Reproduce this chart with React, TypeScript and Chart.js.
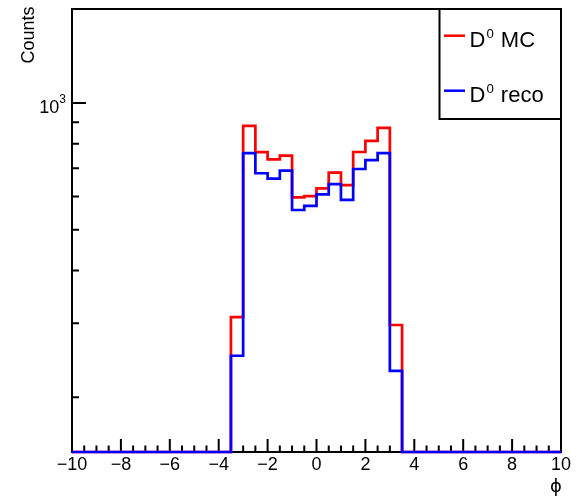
import React, { useEffect, useRef } from "react";
import { Chart, registerables } from "chart.js";

Chart.register(...registerables);

// ---- data ----
const xLow = -10;
const xHigh = 10;
const binWidth = 0.5; // 40 bins of phi
const mcCounts = [
  0, 0, 0, 0, 0, 0, 0, 0, 0, 0, 0, 0, 0,
  310, 882, 764, 735, 750, 597, 601, 627, 683, 638, 765, 813, 873, 297,
  0, 0, 0, 0, 0, 0, 0, 0, 0, 0, 0, 0, 0,
];
const recoCounts = [
  0, 0, 0, 0, 0, 0, 0, 0, 0, 0, 0, 0, 0,
  251, 760, 681, 661, 691, 557, 570, 607, 642, 589, 697, 732, 760, 231,
  0, 0, 0, 0, 0, 0, 0, 0, 0, 0, 0, 0, 0,
];
const seriesLabels = ["D⁰ MC", "D⁰ reco"];
const xTickLabelStep = 2;
const yMin = 148.3;
const yMax = 1672;
const yMinorTicks = [200, 300, 400, 500, 600, 700, 800, 900];
const yMajorTicks = [1000];
const yTitle = "Counts";
const xTitle = "ϕ";

const FONT = "'Liberation Sans', Arial, Helvetica, sans-serif";

function toSteps(counts: number[]) {
  const pts: { x: number; y: number }[] = [];
  for (let i = 0; i <= counts.length; i++) {
    const c = counts[Math.min(i, counts.length - 1)];
    pts.push({ x: xLow + i * binWidth, y: c > yMin ? c : yMin });
  }
  return pts;
}

const SUP: Record<string, string> = { "⁰": "0", "¹": "1", "²": "2", "³": "3" };

function drawRich(ctx: CanvasRenderingContext2D, text: string, x: number, y: number, size: number) {
  let cx = x;
  for (const ch of Array.from(text)) {
    if (SUP[ch]) {
      const s = size * 0.6;
      ctx.font = `${s}px ${FONT}`;
      ctx.fillText(SUP[ch], cx + 1, y - size * 0.38);
      cx += ctx.measureText(SUP[ch]).width + 2;
    } else {
      ctx.font = `${size}px ${FONT}`;
      ctx.fillText(ch, cx, y);
      cx += ctx.measureText(ch).width;
    }
  }
}

const rootStyle = {
  id: "rootStyle",
  beforeDatasetsDraw(chart: any) {
    const { ctx, chartArea: a, scales } = chart;
    const xs = scales.x;
    const ys = scales.y;
    ctx.save();
    ctx.strokeStyle = "#000";
    ctx.lineWidth = 2;
    ctx.strokeRect(a.left, a.top, a.right - a.left, a.bottom - a.top);
    ctx.beginPath();
    for (let v = xLow; v <= xHigh + 1e-9; v += binWidth) {
      const px = xs.getPixelForValue(v);
      const major = Math.abs(v / xTickLabelStep - Math.round(v / xTickLabelStep)) < 1e-9;
      ctx.moveTo(px, a.bottom);
      ctx.lineTo(px, a.bottom - (major ? 13 : 6.5));
    }
    for (const v of yMinorTicks) {
      const py = ys.getPixelForValue(v);
      ctx.moveTo(a.left, py);
      ctx.lineTo(a.left + 7, py);
    }
    for (const v of yMajorTicks) {
      const py = ys.getPixelForValue(v);
      ctx.moveTo(a.left, py);
      ctx.lineTo(a.left + 14, py);
    }
    ctx.stroke();

    // y tick label 10^3
    ctx.fillStyle = "#000";
    ctx.textBaseline = "alphabetic";
    ctx.textAlign = "left";
    for (const v of yMajorTicks) {
      const py = ys.getPixelForValue(v);
      const exp = Math.round(Math.log10(v));
      ctx.font = `18px ${FONT}`;
      const w10 = ctx.measureText("10").width;
      ctx.font = `12px ${FONT}`;
      const we = ctx.measureText(String(exp)).width;
      const right = a.left - 6;
      const left = right - we - w10;
      ctx.font = `18px ${FONT}`;
      ctx.fillText("10", left, py + 10.5);
      ctx.font = `12px ${FONT}`;
      ctx.fillText(String(exp), left + w10, py + 0.5);
    }

    // titles
    ctx.save();
    ctx.font = `18px ${FONT}`;
    ctx.translate(33.5, a.top - 2.5);
    ctx.rotate(-Math.PI / 2);
    ctx.textAlign = "right";
    ctx.fillText(yTitle, 0, 0);
    ctx.restore();
    ctx.font = `18px 'DejaVu Sans', ${FONT}`;
    ctx.textAlign = "center";
    ctx.textBaseline = "middle";
    ctx.fillText(xTitle, a.right - 5, 487);
    ctx.restore();
  },
  afterDraw(chart: any) {
    const { ctx, chartArea: a } = chart;
    ctx.save();
    const bx = 439.5;
    const by = a.top;
    const bw = a.right - bx;
    const bh = 110;
    ctx.fillStyle = "#fff";
    ctx.fillRect(bx, by, bw, bh);
    ctx.strokeStyle = "#000";
    ctx.lineWidth = 2;
    ctx.strokeRect(bx, by, bw, bh);
    const ds = chart.data.datasets;
    ds.forEach((d: any, i: number) => {
      const base = by + 37.7 + i * 55;
      ctx.strokeStyle = d.borderColor;
      ctx.lineWidth = 2.5;
      ctx.beginPath();
      ctx.moveTo(bx + 4.5, base - 11);
      ctx.lineTo(bx + 25.5, base - 11);
      ctx.stroke();
      ctx.fillStyle = "#000";
      ctx.textAlign = "left";
      ctx.textBaseline = "alphabetic";
      drawRich(ctx, d.label, bx + 30, base, 22);
    });
    ctx.restore();
  },
};

export default function App() {
  const ref = useRef<HTMLCanvasElement | null>(null);
  useEffect(() => {
    if (!ref.current) return;
    const chart = new Chart(ref.current, {
      type: "line",
      data: {
        datasets: [
          {
            label: seriesLabels[0],
            data: toSteps(mcCounts),
            borderColor: "#ff0000",
            borderWidth: 2.7,
            stepped: "before",
            pointRadius: 0,
            fill: false,
            order: 1,
            clip: false,
          },
          {
            label: seriesLabels[1],
            data: toSteps(recoCounts),
            borderColor: "#0000ff",
            borderWidth: 2.7,
            stepped: "before",
            pointRadius: 0,
            fill: false,
            order: 0,
            clip: false,
          },
        ],
      },
      options: {
        animation: false,
        responsive: false,
        devicePixelRatio: 1,
        layout: { padding: { left: 0, right: 26, top: 9, bottom: 0 } },
        plugins: { legend: { display: false }, tooltip: { enabled: false } },
        scales: {
          x: {
            type: "linear",
            min: xLow,
            max: xHigh,
            grid: { display: false, drawTicks: false },
            border: { display: false },
            ticks: {
              stepSize: xTickLabelStep,
              autoSkip: false,
              maxRotation: 0,
              padding: 2,
              color: "#000",
              font: { family: FONT, size: 18 },
              callback: (v: any) => (Number(v) < 0 ? "\u2212" + Math.abs(Number(v)) : String(v)),
            },
            afterFit: (s: any) => {
              s.height = 44;
            },
          },
          y: {
            type: "logarithmic",
            min: yMin,
            max: yMax,
            grid: { display: false, drawTicks: false },
            border: { display: false },
            ticks: { display: false },
            afterFit: (s: any) => {
              s.width = 72;
            },
          },
        },
      },
      plugins: [rootStyle],
    } as any);
    return () => chart.destroy();
  }, []);
  return (
    <div style={{ position: "absolute", left: 0, top: 0, width: 587, height: 496, background: "#fff" }}>
      <canvas ref={ref} width={587} height={496} style={{ display: "block" }} />
    </div>
  );
}
